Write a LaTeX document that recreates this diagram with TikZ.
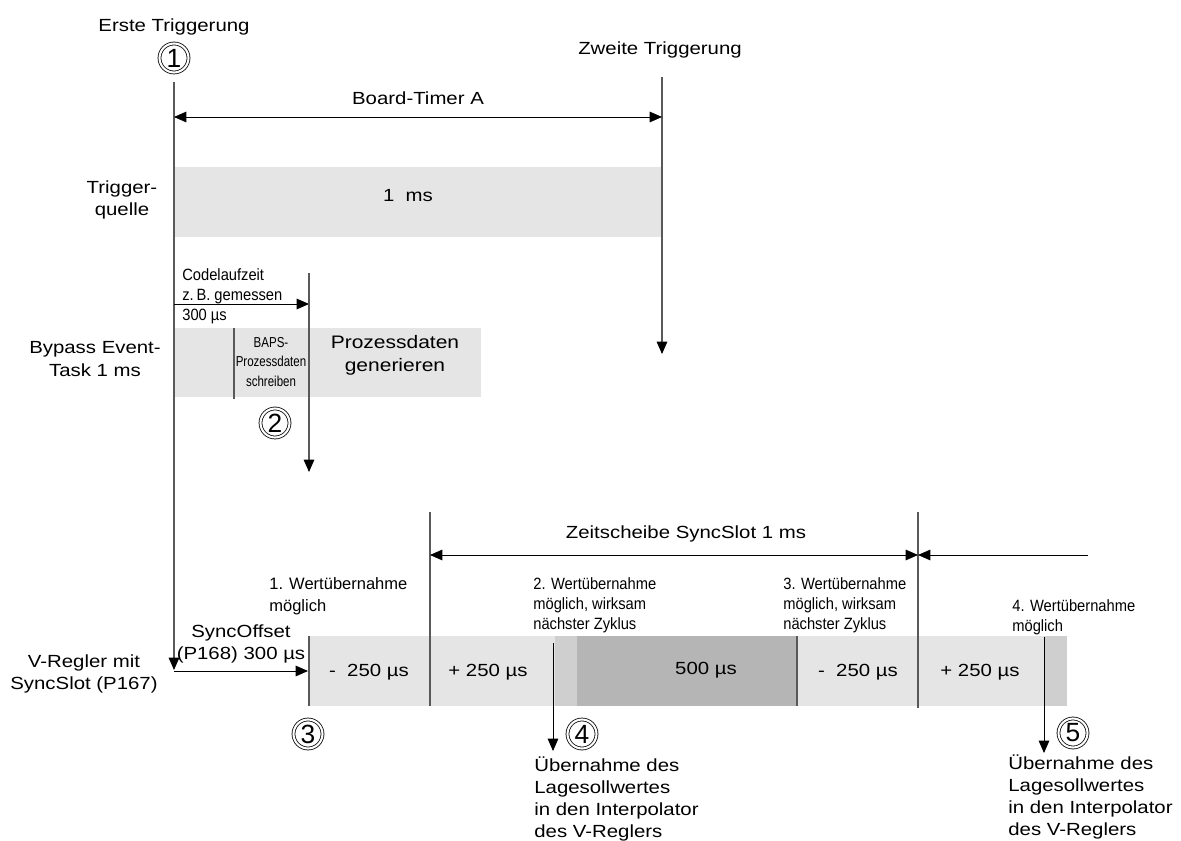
\documentclass[tikz,border=0pt]{standalone}
\usepackage{fontspec}
\setmainfont{Liberation Sans}[FakeStretch=1.16]
\newfontfamily\plainfont{Liberation Sans}
\newfontfamily\narrowfont{Liberation Sans}[FakeStretch=0.9]
\newfontfamily\bapsfont{Liberation Sans}[FakeStretch=0.8]
\usetikzlibrary{arrows.meta}

\definecolor{barlight}{gray}{0.90}
\definecolor{barmid}{gray}{0.81}
\definecolor{bardark}{gray}{0.71}

\begin{document}
\begin{tikzpicture}[x=0.02cm, y=-0.02cm,
		>={Triangle[length=7pt,width=6pt]},
		txt/.style={font=\fontsize{10}{12.6}\selectfont, align=center, inner sep=0pt},
		plain/.style={font=\plainfont\fontsize{9.4}{12.8}\selectfont, align=left, inner sep=0pt},
		narrow/.style={font=\narrowfont\fontsize{9.3}{11.6}\selectfont, align=left, inner sep=0pt},
		tick/.style={draw=black!65, line width=0.6pt},
		tickarr/.style={tick, -{Triangle[length=7pt,width=6pt,black]}},
		arr/.style={->, line width=0.5pt},
		numcircle/.style={circle, draw, double, double distance=1.2pt, line width=0.45pt, inner sep=0pt, minimum size=0.58cm, font=\plainfont\fontsize{15}{15}\selectfont}]
		
		\useasboundingbox (0,0) rectangle (1181,841);
		
		%trigger points
		\node[txt] (erste) at (174,27) {Erste Triggerung};
		\node[numcircle] (n1) at (174,58) {1};
		\node[txt] (zweite) at (660,50) {Zweite Triggerung};
		\coordinate (t1top) at (174,82);
		\coordinate (t1bot) at (174,670);
		\coordinate (t2top) at (662,77);
		\coordinate (t2bot) at (662,354);
		
		%gray bars
		\fill[barlight] (174,167) rectangle (662,237);
		\fill[barlight] (174,328) rectangle (481,397);
		\fill[barlight] (309,636) rectangle (555,706);
		\fill[barmid] (555,636) rectangle (577,706);
		\fill[bardark] (577,636) rectangle (797,706);
		\fill[barlight] (797,636) rectangle (1044,706);
		\fill[barmid] (1044,636) rectangle (1067,706);
		
		\draw[tickarr] (t1top) -- (t1bot);
		\draw[tickarr] (t2top) -- (t2bot);
		
		%board timer
		\coordinate (bt1) at (174,117);
		\coordinate (bt2) at (662,117);
		\draw[arr,<->] (bt1) -- (bt2) node[midway,above=7pt,txt] (btlab) {Board-Timer A};
		
		\node[txt] (quelle) at (122,200) {Trigger-\\quelle};
		\node[txt] (onems) at (408,196) {1\ \ ms};
		
		%bypass task
		\node[txt] (bypass) at (95,359) {Bypass Event-\\Task 1 ms};
		\coordinate (code1) at (174,304);
		\coordinate (code2) at (309,304);
		\coordinate (c2top) at (309,273);
		\coordinate (c2bot) at (309,472);
		\draw[arr] (code1) -- (code2);
		\draw[tickarr] (c2top) -- (c2bot);
		\node[narrow,anchor=north west] (codelab) at (182,268) {Codelaufzeit\\z.\,B. gemessen\\300 µs};
		\draw[tick] (234,328) -- (234,399);
		\node[font=\bapsfont\fontsize{8.2}{11.2}\selectfont, align=center, inner sep=0pt] (baps) at (271,362) {BAPS-\\Prozessdaten\\schreiben};
		\node[txt,font=\fontsize{10.3}{13}\selectfont] (gen) at (395,355) {Prozessdaten\\generieren};
		\node[numcircle] (n2) at (275,423) {2};
		
		%sync slot of the controller
		\node[txt] (vregler) at (84,674) {V-Regler mit\\SyncSlot (P167)};
		\coordinate (so1) at (174,671);
		\coordinate (so2) at (308,671);
		\draw[arr] (so1) -- (so2);
		\node[txt] (sooff) at (241,644) {SyncOffset\\(P168) 300 µs};
		\node[plain,anchor=north west] (w1) at (269,577) {1. Wertübernahme\\möglich};
		
		\coordinate (zs1) at (430,512);
		\coordinate (zs2) at (918,512);
		\draw[tick] (309,636) -- (309,706);
		\draw[tick] (zs1) -- (430,706);
		\draw[tick] (797,636) -- (797,706);
		\draw[tick] (zs2) -- (918,708);
		\coordinate (za) at (430,555);
		\coordinate (zb) at (918,555);
		\coordinate (zc) at (1088,555);
		\draw[arr,<->] (za) -- (zb) node[midway,above=7pt,xshift=0.24cm,txt] (zslab) {Zeitscheibe SyncSlot 1 ms};
		\draw[arr] (zc) -- (zb);
		
		\node[txt] (s1) at (369,672) {-\ \ 250 µs};
		\node[txt] (s2) at (488,672) {+ 250 µs};
		\node[txt] (s3) at (706,670) {500 µs};
		\node[txt] (s4) at (858,672) {-\ \ 250 µs};
		\node[txt] (s5) at (980,672) {+ 250 µs};
		
		\node[narrow,anchor=north west] (w2) at (533,577) {2. Wertübernahme\\möglich, wirksam\\nächster Zyklus};
		\node[narrow,anchor=north west] (w3) at (783,577) {3. Wertübernahme\\möglich, wirksam\\nächster Zyklus};
		\node[narrow,anchor=north west] (w4) at (1012,599) {4. Wertübernahme\\möglich};
		
		%takeover into the interpolator
		\coordinate (u1top) at (553,643);
		\coordinate (u1bot) at (553,751);
		\coordinate (u2top) at (1044,637);
		\coordinate (u2bot) at (1044,753);
		\draw[arr] (u1top) -- (u1bot);
		\draw[arr] (u2top) -- (u2bot);
		\node[numcircle] (n3) at (308,734) {3};
		\node[numcircle] (n4) at (582,734) {4};
		\node[numcircle] (n5) at (1073,733) {5};
		\node[txt,align=left,anchor=north west] (ueb1) at (534,756) {Übernahme des\\Lagesollwertes\\in den Interpolator\\des V-Reglers};
		\node[txt,align=left,anchor=north west] (ueb2) at (1008,754) {Übernahme des\\Lagesollwertes\\in den Interpolator\\des V-Reglers};
		
	\end{tikzpicture}
\end{document}
